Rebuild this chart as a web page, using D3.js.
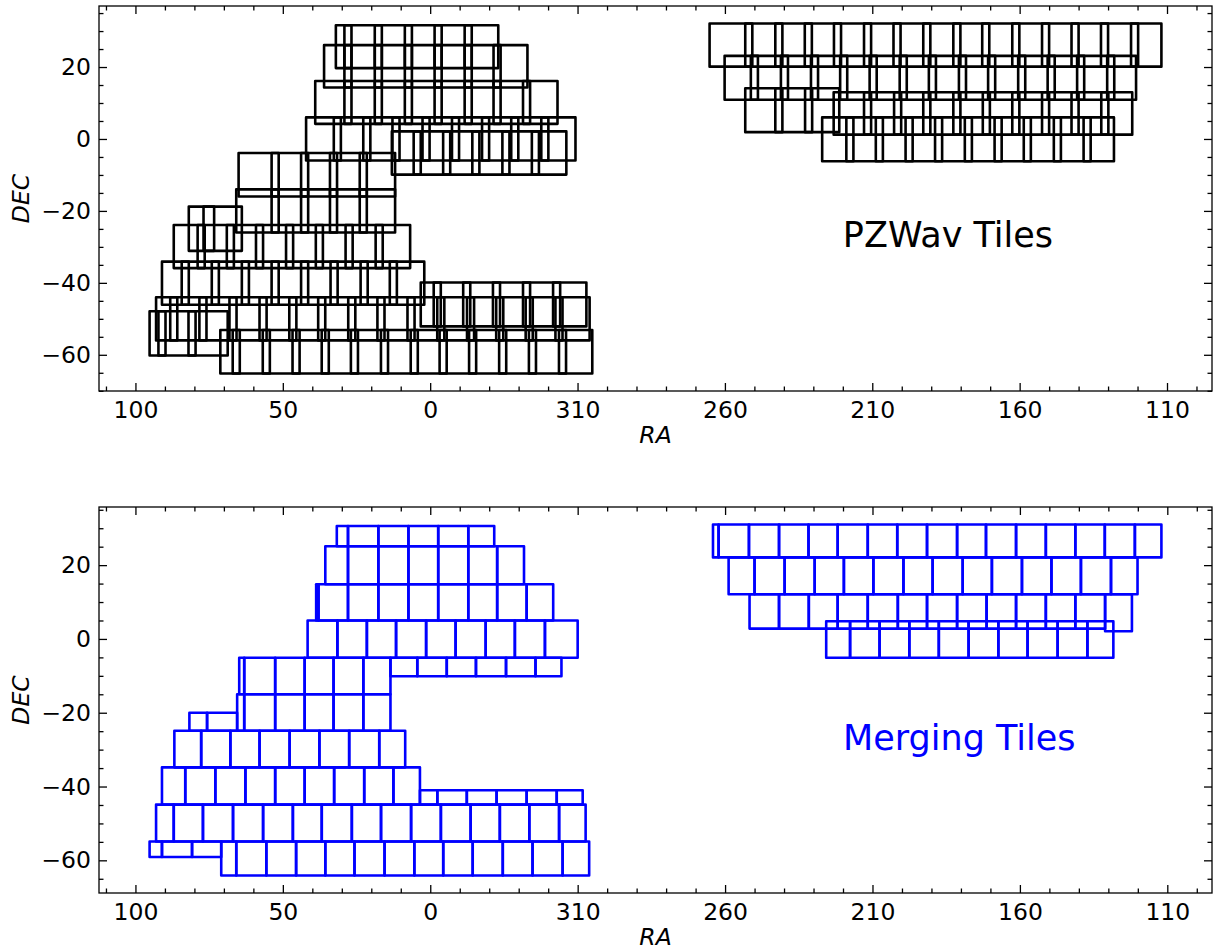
<!DOCTYPE html>
<html>
<head>
<meta charset="utf-8">
<script src="https://cdn.jsdelivr.net/npm/d3@7"></script>
<style>
  html, body { margin: 0; padding: 0; background: #fff; }
  svg { display: block; }
  text { font-family: "DejaVu Sans", sans-serif; }
</style>
</head>
<body>
<svg id="chart" width="1221" height="950"></svg>
<script>
// RA is stored unwrapped (degrees, RA - 360 beyond the 0h line) so each footprint stays contiguous;
// tick labels convert back to RA in [0, 360).

// Merging tiles: strips of constant Dec, each split at the listed RA edges.
const mergeDec = [
  [25.1, 30.6], [14.8, 25.1], [5.0, 14.8], [-5.1, 5.0],
  [-15.0, -5.1], [-10.1, -5.1], [-24.9, -15.0], [-24.9, -20.0],
  [-34.8, -24.9], [-44.9, -34.8], [-44.9, -41.0], [-54.9, -44.9],
  [-59.1, -54.9], [-64.1, -54.9],
  [22.1, 31.0], [12.1, 22.1], [2.8, 12.1], [2.1, 12.1], [-5.1, 4.8]
];
const mergeEdges = [
  [31.7, 27.9, 17.6, 7.4, -2.7, -12.9, -21.7],
  [35.6, 27.9, 17.6, 7.4, -2.7, -12.9, -22.7, -31.8],
  [38.7, 37.9, 27.9, 17.6, 7.4, -2.7, -12.9, -22.7, -32.7, -41.7],
  [41.6, 31.5, 21.5, 11.6, 1.4, -8.6, -18.8, -28.7, -38.9, -50.0],
  [64.8, 63.1, 52.6, 42.6, 32.8, 22.7, 13.5],
  [13.5, 4.4, -5.6, -15.5, -25.7, -35.7, -44.5],
  [65.5, 63.1, 52.6, 42.6, 32.8, 22.7, 13.5],
  [81.7, 75.7, 65.5],
  [86.8, 77.7, 67.8, 57.9, 47.7, 37.6, 27.5, 17.3, 8.5],
  [91.0, 83.1, 72.9, 62.7, 52.6, 42.6, 32.6, 22.4, 12.5, 3.5],
  [3.5, -2.4, -12.4, -22.5, -32.7, -42.9, -51.7],
  [93.0, 87.0, 77.1, 66.9, 56.7, 46.6, 36.8, 26.6, 16.7, 6.5, -3.6, -13.7, -23.6, -33.6, -43.7, -52.7],
  [95.2, 91.0, 80.8, 70.9],
  [70.9, 65.8, 55.6, 45.5, 35.6, 25.7, 15.5, 5.4, -4.4, -14.4, -24.6, -34.7, -44.9, -53.9],
  [-95.9, -97.8, -108.1, -118.3, -128.3, -138.2, -148.4, -158.4, -168.5, -178.7, -188.5, -198.7, -208.8, -218.8, -228.8, -239.0, -248.0],
  [-101.2, -110.0, -120.2, -130.4, -140.3, -150.3, -160.5, -170.4, -180.6, -190.5, -200.7, -210.7, -220.7, -230.9, -239.9],
  [-108.3, -118.3, -128.4, -138.2, -148.4, -158.6, -168.5, -178.7, -188.7, -198.7, -208.8, -218.8, -228.9],
  [-228.9, -238.0],
  [-134.3, -142.4, -152.4, -162.5, -172.5, -182.6, -192.7, -202.6, -212.8, -222.9, -231.7]
];

// PZWav tiles: rows of overlapping tiles, each tile given by its two RA limits.
const pzwavDec = [
  [19.7, 31.6], [14.3, 26.1], [4.2, 16.1], [-6.0, 6.0], [-9.9, 2.1],
  [-16.0, -3.9], [-26.0, -14.0], [-31.1, -18.8], [-35.9, -23.9], [-46.1, -34.1],
  [-52.1, -39.9], [-56.0, -44.0], [-60.2, -47.9], [-65.2, -53.1],
  [20.1, 32.1], [10.9, 23.1], [1.9, 14.1], [1.2, 13.0], [-6.2, 6.0]
];
const pzwavRA = [
  [[32.0, 26.7], [29.1, 16.4], [18.8, 6.2], [8.6, -3.9], [-1.5, -14.1], [-11.7, -23.1]],
  [[36.0, 26.7], [29.1, 16.4], [18.8, 6.2], [8.6, -3.9], [-1.5, -14.1], [-11.7, -23.9], [-21.5, -33.0]],
  [[39.0, 26.7], [29.1, 16.4], [18.8, 6.2], [8.6, -3.9], [-1.5, -14.1], [-11.7, -23.9], [-21.5, -33.9], [-31.5, -43.2]],
  [[42.1, 30.3], [32.7, 20.3], [22.7, 10.4], [12.8, 0.2], [2.6, -9.8], [-7.4, -20.0], [-17.6, -29.9], [-27.5, -40.1], [-37.7, -49.3]],
  [[13.0, 3.2], [5.6, -6.8], [-4.4, -16.7], [-14.3, -26.9], [-24.5, -36.9], [-34.5, -46.2]],
  [[65.0, 51.4], [53.8, 41.4], [43.8, 31.6], [34.0, 21.5], [23.9, 11.9]],
  [[65.8, 51.4], [53.8, 41.4], [43.8, 31.6], [34.0, 21.5], [23.9, 11.9]],
  [[81.9, 73.3], [76.9, 63.9]],
  [[87.0, 76.5], [78.9, 66.6], [69.0, 56.7], [59.1, 46.5], [48.9, 36.4], [38.8, 26.3], [28.7, 16.1], [18.5, 6.8]],
  [[91.0, 81.9], [84.3, 71.7], [74.1, 61.5], [63.9, 51.4], [53.8, 41.4], [43.8, 31.4], [33.8, 21.2], [23.6, 11.3], [13.7, 2.0]],
  [[3.2, -3.6], [-1.2, -13.6], [-11.2, -23.7], [-21.3, -33.9], [-31.5, -44.1], [-41.7, -53.0]],
  [[93.0, 85.8], [88.2, 75.9], [78.3, 65.7], [68.1, 55.5], [57.9, 45.4], [47.8, 35.6], [38.0, 25.4], [27.8, 15.5],
   [17.9, 5.3], [7.7, -4.8], [-2.4, -14.9], [-12.5, -24.8], [-22.4, -34.8], [-32.4, -44.9], [-42.5, -54.1]],
  [[95.2, 89.8], [92.2, 79.6], [82.0, 68.7]],
  [[71.2, 64.6], [67.0, 54.4], [56.8, 44.3], [46.7, 34.4], [36.8, 24.5], [26.9, 14.3], [16.7, 4.2], [6.6, -5.6],
   [-3.2, -15.6], [-13.2, -25.8], [-23.4, -35.9], [-33.5, -46.1], [-43.7, -55.0]],
  [[-94.8, -109.3], [-106.9, -119.5], [-117.1, -129.5], [-127.1, -139.4], [-137.0, -149.6], [-147.2, -159.6],
   [-157.2, -169.7], [-167.3, -179.9], [-177.5, -189.7], [-187.3, -199.9], [-197.5, -210.0], [-207.6, -220.0],
   [-217.6, -230.0], [-227.6, -240.2], [-237.8, -248.1]],
  [[-99.9, -111.2], [-108.8, -121.4], [-119.0, -131.6], [-129.2, -141.5], [-139.1, -151.5], [-149.1, -161.7],
   [-159.3, -171.6], [-169.2, -181.8], [-179.4, -191.7], [-189.3, -201.9], [-199.5, -211.9], [-209.5, -221.9],
   [-219.5, -232.1], [-229.7, -239.5]],
  [[-106.9, -119.5], [-117.1, -129.6], [-127.2, -138.8]],
  [[-136.9, -149.6], [-147.2, -159.8], [-157.4, -169.7], [-167.3, -179.9], [-177.5, -189.9], [-187.5, -199.9],
   [-197.5, -210.0], [-207.6, -220.0], [-217.6, -230.1], [-227.7, -238.2]],
  [[-133.0, -143.6], [-141.2, -153.6], [-151.2, -163.7], [-161.3, -173.7], [-171.3, -183.8], [-181.4, -193.9],
   [-191.5, -203.8], [-201.4, -214.0], [-211.6, -224.1], [-221.7, -232.0]]
];

const xMajorTicks = [100, 50, 0, -50, -100, -150, -200, -250];
const yMajorTicks = [20, 0, -20, -40, -60];
const panelTitles = ["PZWav Tiles", "Merging Tiles"];
const titlePos = [-140, -30];   // [RA (unwrapped), Dec] of the panel titles
const axisLabels = ["RA", "DEC"];

// Build rectangle lists from the arrays above
const mergeRects = [];
mergeDec.forEach((d, i) => {
  const e = mergeEdges[i];
  for (let k = 0; k < e.length - 1; k++) mergeRects.push({ ra: [e[k], e[k + 1]], dec: d });
});
const pzRects = [];
pzwavDec.forEach((d, i) => pzwavRA[i].forEach(r => pzRects.push({ ra: r, dec: d })));

const svg = d3.select("#chart");
const L = 99, R = 1212;
const panels = [
  { top: 6, bottom: 391, rects: pzRects, color: "#000000", title: panelTitles[0] },
  { top: 507, bottom: 893, rects: mergeRects, color: "#0000ff", title: panelTitles[1] }
];

function paddedExtent(vals) {
  const [a, b] = d3.extent(vals);
  const m = (b - a) * 0.05;
  return [a - m, b + m];
}
const raLabel = v => String(((Math.round(v) % 360) + 360) % 360);
const decLabel = v => (v < 0 ? "\u2212" + Math.abs(v) : String(v));

panels.forEach(p => {
  const xs = p.rects.flatMap(r => r.ra);
  const ys = p.rects.flatMap(r => r.dec);
  const xe = paddedExtent(xs);
  const ye = paddedExtent(ys);
  const x = d3.scaleLinear().domain([xe[1], xe[0]]).range([L, R]);
  const y = d3.scaleLinear().domain(ye).range([p.bottom, p.top]);
  const g = svg.append("g");

  const xMinor = d3.range(Math.ceil(xe[0] / 10) * 10, xe[1], 10).filter(v => v % 50 !== 0);
  const yMinor = d3.range(Math.ceil(ye[0] / 5) * 5, ye[1], 5).filter(v => v % 20 !== 0);

  // tiles
  g.append("g").selectAll("rect").data(p.rects).join("rect")
    .attr("x", d => x(d3.max(d.ra)))
    .attr("y", d => y(d3.max(d.dec)))
    .attr("width", d => x(d3.min(d.ra)) - x(d3.max(d.ra)))
    .attr("height", d => y(d3.min(d.dec)) - y(d3.max(d.dec)))
    .attr("fill", "none")
    .attr("stroke", p.color)
    .attr("stroke-width", 2.6)
    .attr("stroke-linejoin", "round");

  // axes with inward ticks on all four sides
  const fontSize = "23.5px";
  const addAxis = (axis, transform, labels) => {
    const a = g.append("g").attr("transform", transform).call(axis);
    a.select(".domain").remove();
    a.selectAll(".tick line").attr("stroke", "#000").attr("stroke-width", 1.3);
    a.selectAll("text").attr("font-size", fontSize).attr("fill", "#000")
      .attr("font-family", "DejaVu Sans, sans-serif");
    if (!labels) a.selectAll("text").remove();
    return a;
  };
  addAxis(d3.axisBottom(x).tickValues(xMajorTicks).tickFormat(raLabel).tickSizeInner(-8).tickSizeOuter(0).tickPadding(10),
    `translate(0,${p.bottom})`, true);
  addAxis(d3.axisBottom(x).tickValues(xMinor).tickSizeInner(-4.5).tickSizeOuter(0), `translate(0,${p.bottom})`, false);
  addAxis(d3.axisTop(x).tickValues(xMajorTicks).tickSizeInner(-8).tickSizeOuter(0), `translate(0,${p.top})`, false);
  addAxis(d3.axisTop(x).tickValues(xMinor).tickSizeInner(-4.5).tickSizeOuter(0), `translate(0,${p.top})`, false);
  addAxis(d3.axisLeft(y).tickValues(yMajorTicks).tickFormat(decLabel).tickSizeInner(-8).tickSizeOuter(0).tickPadding(8),
    `translate(${L},0)`, true);
  addAxis(d3.axisLeft(y).tickValues(yMinor).tickSizeInner(-4.5).tickSizeOuter(0), `translate(${L},0)`, false);
  addAxis(d3.axisRight(y).tickValues(yMajorTicks).tickSizeInner(-8).tickSizeOuter(0), `translate(${R},0)`, false);
  addAxis(d3.axisRight(y).tickValues(yMinor).tickSizeInner(-4.5).tickSizeOuter(0), `translate(${R},0)`, false);

  // frame
  g.append("rect").attr("x", L).attr("y", p.top).attr("width", R - L).attr("height", p.bottom - p.top)
    .attr("fill", "none").attr("stroke", "#000").attr("stroke-width", 1.3);

  // axis labels
  g.append("text").attr("x", (L + R) / 2).attr("y", p.bottom + 52)
    .attr("text-anchor", "middle").attr("font-size", fontSize).attr("font-style", "italic")
    .text(axisLabels[0]);
  g.append("text")
    .attr("transform", `translate(29,${(p.top + p.bottom) / 2}) rotate(-90)`)
    .attr("text-anchor", "middle").attr("font-size", fontSize).attr("font-style", "italic")
    .text(axisLabels[1]);

  // panel title
  g.append("text").attr("x", x(titlePos[0])).attr("y", y(titlePos[1]))
    .attr("font-size", "35px").attr("fill", p.color).text(p.title);
});
</script>
</body>
</html>
